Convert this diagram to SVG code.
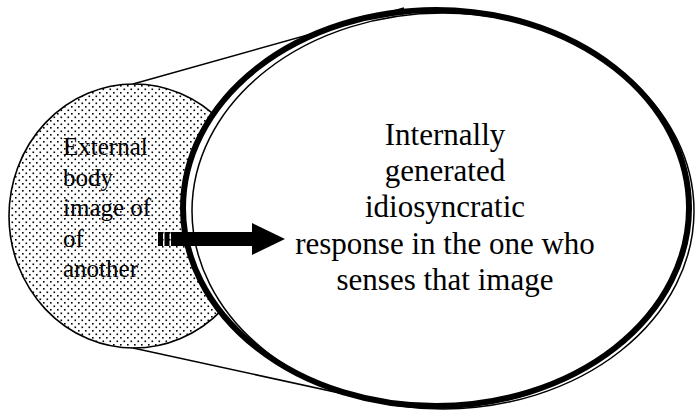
<svg xmlns="http://www.w3.org/2000/svg" width="698" height="414" viewBox="0 0 698 414">
  <defs>
    <pattern id="dots" x="0" y="0" width="7" height="7" patternUnits="userSpaceOnUse">
      <rect x="0" y="0" width="7" height="7" fill="#ffffff"/>
      <rect x="1" y="1" width="1.6" height="1.6" fill="#000000"/>
      <rect x="4.5" y="4.5" width="1.6" height="1.6" fill="#000000"/>
    </pattern>
    <style>
      .small { font-family: "Liberation Serif", "Times New Roman", serif; font-size: 25px; fill: #000; }
      .big { font-family: "Liberation Serif", "Times New Roman", serif; font-size: 31px; fill: #000; text-anchor: middle; }
      .tan { stroke: #000; stroke-width: 1.5; fill: none; }
    </style>
  </defs>
  <rect x="0" y="0" width="698" height="414" fill="#ffffff"/>

  <g id="external">
    <ellipse cx="134" cy="216" rx="125" ry="132" fill="url(#dots)" stroke="#000" stroke-width="1.6"/>
    <text class="small" x="63" y="155">External</text>
    <text class="small" x="63" y="185.5">body</text>
    <text class="small" x="63" y="216">image of</text>
    <text class="small" x="63" y="246.5">of</text>
    <text class="small" x="63" y="277">another</text>
  </g>

  <g id="tangents">
    <line class="tan" x1="133" y1="84" x2="404" y2="8"/>
    <line class="tan" x1="133" y1="348" x2="390" y2="404"/>
  </g>

  <g id="internal">
    <ellipse cx="436" cy="208" rx="253" ry="198" fill="#ffffff" stroke="#000" stroke-width="6"/>
    <ellipse cx="443" cy="211" rx="251" ry="198" fill="none" stroke="#000" stroke-width="1.5"/>
    <text class="big" x="445" y="145">Internally</text>
    <text class="big" x="445" y="181">generated</text>
    <text class="big" x="445" y="217">idiosyncratic</text>
    <text class="big" x="445" y="254">response in the one who</text>
    <text class="big" x="445" y="290">senses that image</text>
  </g>

  <g id="connectors">
    <rect x="158" y="232" width="5" height="14" fill="#000"/>
    <rect x="164.5" y="232" width="5" height="14" fill="#000"/>
    <polygon points="171,232 252,232 252,223 285,239 252,255 252,246 171,246" fill="#000"/>
  </g>
</svg>
